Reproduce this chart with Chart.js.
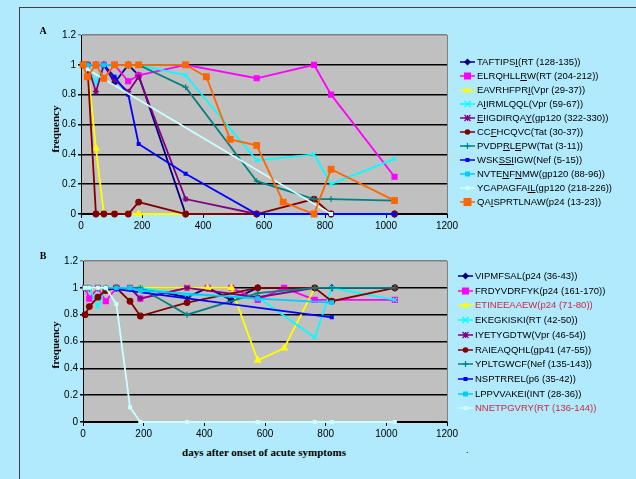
<!DOCTYPE html>
<html>
<head>
<meta charset="utf-8">
<script src="https://cdn.jsdelivr.net/npm/chart.js@4.4.1/dist/chart.umd.min.js"></script>
<style>
body { margin: 0; width: 636px; height: 479px; overflow: hidden; position: relative; background: #b0eafc; font-family: "Liberation Sans", Arial, sans-serif; }
#frame { position: absolute; left: 19px; top: 7px; width: 640px; height: 490px; border: 1px solid #404040; }
canvas { position: absolute; left: 0; }
.t { position: absolute; font-family: "Liberation Serif", "Times New Roman", serif; font-weight: bold; color: #000; white-space: nowrap; transform: translate(-50%, -50%); }
.rot { transform: translate(-50%, -50%) rotate(-90deg); }
.item { position: absolute; height: 14px; white-space: nowrap; font-size: 9.5px; color: #000; }
.item svg { position: absolute; left: 0; top: 0; }
.item span { position: absolute; left: 17px; top: 0; line-height: 14px; }
</style>
</head>
<body>
<div id="frame"></div>
<canvas id="chartA" width="462" height="240" style="top:0px"></canvas>
<canvas id="chartB" width="462" height="205" style="top:240px"></canvas>
<div class="t" style="left:43px;top:30px;font-size:10px">A</div>
<div class="t" style="left:43px;top:255px;font-size:10px">B</div>
<div class="t rot" style="left:55px;top:129px;font-size:11px">frequency</div>
<div class="t rot" style="left:55px;top:345px;font-size:11px">frequency</div>
<div class="t" style="left:264px;top:452px;font-size:11px">days after onset of acute symptoms</div>
<div class="item" style="left:466px;top:444px">.</div>
<div id="legendA"></div>
<div id="legendB"></div>
<script>
const days = [7, 21, 49, 75, 110, 155, 189, 343, 411, 489, 576, 663, 764, 820, 1028];

// panel A
const taftipsi   = [1, 1, 1, 1, 0.88, 1, 0.93, 0, null, null, 0, null, null, 0, 0];
const elrqhllrw  = [1, 1, 1, 1, 1, 0.89, 0.93, 1, null, null, 0.91, null, 1, 0.8, 0.25];
const eavrhfpri  = [1, 1, 0.44, 0, 0, 0, 0, 0, null, null, null, null, null, null, null];
const aiirmlqql  = [1, 1, 0.88, 1, 1, 1, 1, 0.93, null, null, 0.36, null, 0.4, 0.2, 0.37];
const eiigdirqay = [1, 1, 0.82, 1, 0.9, 0.82, 0.92, 0.1, null, null, 0, null, null, 0, 0];
const ccfhcqvc   = [1, 1, 0, 0, 0, 0, 0.08, 0, null, null, 0, null, 0.1, 0, 0];
const pvdprlepw  = [1, 1, 1, 1, 1, 1, 1, 0.85, null, null, 0.22, null, 0.1, 0.1, 0.09];
const wskssiigw  = [1, 1, 1, 1, 0.92, 0.8, 0.47, 0.27, null, null, 0, null, null, 0, 0];
const nvtenfnmw  = [1, 1, 1, 1, 1, 1, 1, 1, null, null, null, null, null, null, null];
const ycapagfail = [1, 0.97, null, null, null, null, null, null, null, null, null, null, null, 0, null];
const qaisprtlnaw = [1, 0.92, 1, 0.91, 1, 1, 1, 1, 0.92, 0.5, 0.46, 0.08, 0, 0.3, 0.09];

// panel B
const vipmfsal   = [1, 1, 1, 1, 1, 1, 1, 0.93, 1, 0.91, 1, null, 1, 1, 1];
const frdyvdrfyk = [1, 0.92, 1, 0.9, 1, 1, 0.92, 1, 1, 1, 0.91, 1, 0.91, null, 0.91];
const etineeaaew = [1, 1, 1, 1, 1, 1, 1, 1, 1, 1, 0.46, 0.55, 1, null, null];
const ekegkiski  = [1, 1, 0.86, 1, 1, 1, 1, 0.95, null, null, 0.93, null, 0.63, 1, 0.91];
const iyetygdtw  = [1, 1, 1, 1, 1, 1, 0.92, 1, null, null, 0.93, null, 1, null, null];
const raieaqqhl  = [0.8, 0.86, 0.93, 0.98, 1, 0.9, 0.79, 0.89, null, null, 1, null, 1, 0.9, 1];
const ypltgwcf   = [1, 1, 1, 1, 1, 1, 1, 0.8, null, null, 0.96, null, 1, 1, 1];
const nsptrrel   = [1, 1, 1, 1, 0.99, null, null, null, null, null, null, null, null, 0.78, null];
const lppvvakei  = [1, 1, 1, 1, 1, 1, 0.98, null, null, null, 0.92, null, null, 0.89, null];
const nnetpgvry  = [1, 1, 1, 1, 0.88, 0.11, 0, 0, null, null, 0, null, 0, 0, 0];

const labelsA = ['TAFTIPS<u>I</u>(RT (128-135))', 'ELRQHLL<u>R</u>W(RT (204-212))', 'EAVRHFPR<u>I</u>(Vpr (29-37))',
  'A<u>I</u>IRMLQQL(Vpr (59-67))', '<u>E</u>IIGDIRQA<u>Y</u>(gp120 (322-330))', 'CC<u>F</u>HCQVC(Tat (30-37))',
  'PVDP<u>R</u>L<u>E</u>PW(Tat (3-11))', 'WSK<u>SS</u><u>I</u>IGW(Nef (5-15))', 'NVTE<u>N</u>F<u>N</u>MW(gp120 (88-96))',
  'YCAPAGFA<u>IL</u>(gp120 (218-226))', 'QA<u>I</u>SPRTLNAW(p24 (13-23))'];
const labelsB = ['VIPMFSAL(p24 (36-43))', 'FRDYVDRFYK(p24 (161-170))', 'ETINEEAAEW(p24 (71-80))',
  'EKEGKISKI(RT (42-50))', 'IYETYGDTW(Vpr (46-54))', 'RAIEAQQHL(gp41 (47-55))', 'YPLTGWCF(Nef (135-143))',
  'NSPTRREL(p6 (35-42))', 'LPPVVAKEI(INT (28-36))', 'NNETPGVRY(RT (136-144))'];

const seriesA = [taftipsi, elrqhllrw, eavrhfpri, aiirmlqql, eiigdirqay, ccfhcqvc, pvdprlepw, wskssiigw, nvtenfnmw, ycapagfail, qaisprtlnaw];
const seriesB = [vipmfsal, frdyvdrfyk, etineeaaew, ekegkiski, iyetygdtw, raieaqqhl, ypltgwcf, nsptrrel, lppvvakei, nnetpgvry];

const looks = [
  { color: '#000080', style: 'rectRot', r: 3 },
  { color: '#ff00ff', style: 'rect', r: 3.5 },
  { color: '#ffff00', style: 'triangle', r: 3.5 },
  { color: '#00ffff', style: 'crossRot', r: 3 },
  { color: '#800080', style: 'star', r: 3 },
  { color: '#800000', style: 'circle', r: 2.8 },
  { color: '#008080', style: 'cross', r: 3 },
  { color: '#0000ff', style: 'rect', r: 2 },
  { color: '#00ccff', style: 'rect', r: 2.5 },
  { color: '#ccffff', style: 'rect', r: 2 },
  { color: '#ff6600', style: 'rect', r: 4 }
];
const redLabels = ['ETINEEAAEW(p24 (71-80))', 'NNETPGVRY(RT (136-144))'];

const plotBg = {
  id: 'plotBg',
  beforeDraw(chart) {
    const a = chart.chartArea, c = chart.ctx;
    c.save();
    c.fillStyle = '#c0c0c0';
    c.fillRect(a.left, a.top, a.right - a.left, a.bottom - a.top);
    c.restore();
  },
  afterDatasetsDraw(chart) {
    const a = chart.chartArea, c = chart.ctx;
    c.save();
    c.strokeStyle = '#808080';
    c.lineWidth = 1;
    c.beginPath();
    c.moveTo(a.right + 0.5, a.top);
    c.lineTo(a.right + 0.5, a.bottom);
    c.stroke();
    c.restore();
  }
};

function makeChart(id, series, yWidth, xHeight, padTop) {
  const n = series.length;
  const datasets = series.map((vals, i) => {
    const lk = looks[i];
    return {
      data: days.map((d, k) => ({ x: d, y: vals[k] })).filter(p => p.y !== null),
      borderColor: lk.color,
      backgroundColor: lk.color,
      pointBackgroundColor: lk.color,
      pointBorderColor: lk.color,
      borderWidth: 1.8,
      pointBorderWidth: 1.2,
      pointStyle: lk.style,
      pointRadius: lk.r,
      pointHoverRadius: lk.r,
      tension: 0,
      clip: false,
      order: n - i
    };
  });
  return new Chart(document.getElementById(id), {
    type: 'line',
    data: { datasets: datasets },
    plugins: [plotBg],
    options: {
      responsive: false,
      animation: false,
      devicePixelRatio: 1,
      layout: { padding: { top: padTop, right: 15, bottom: 0, left: 0 } },
      plugins: { legend: { display: false }, tooltip: { enabled: false } },
      scales: {
        x: {
          type: 'linear', min: 0, max: 1200,
          ticks: { stepSize: 200, color: '#000', padding: 2, font: { family: 'Liberation Sans, Arial', size: 10 },
            callback: v => String(v) },
          grid: { drawOnChartArea: false, drawTicks: true, tickLength: 4, color: '#000' },
          border: { color: '#000', width: 1, z: -1 },
          afterFit: s => { s.height = xHeight; }
        },
        y: {
          min: 0, max: 1.2,
          ticks: { stepSize: 0.2, color: '#000', padding: 2, font: { family: 'Liberation Sans, Arial', size: 10 },
            callback: v => String(+v.toFixed(1)) },
          grid: { color: ctx => (ctx.tick && ctx.tick.value > 1.1) ? '#808080' : '#000', lineWidth: 1.5, tickLength: 3 },
          border: { color: '#000', width: 1, z: -1 },
          afterFit: s => { s.width = yWidth; }
        }
      }
    }
  });
}

makeChart('chartA', seriesA, 81, 26, 35);
makeChart('chartB', seriesB, 83, 23, 21);

function markerSvg(lk) {
  const c = lk.color, cx = 7.5, cy = 7, r = lk.r;
  let m = '';
  if (lk.style === 'rect') m = `<rect x="${cx - r}" y="${cy - r}" width="${2 * r}" height="${2 * r}" fill="${c}"/>`;
  else if (lk.style === 'rectRot') m = `<polygon points="${cx},${cy - r - 0.5} ${cx + r + 0.5},${cy} ${cx},${cy + r + 0.5} ${cx - r - 0.5},${cy}" fill="${c}"/>`;
  else if (lk.style === 'triangle') m = `<polygon points="${cx},${cy - r} ${cx + r},${cy + r * 0.7} ${cx - r},${cy + r * 0.7}" fill="${c}"/>`;
  else if (lk.style === 'circle') m = `<circle cx="${cx}" cy="${cy}" r="${r}" fill="${c}"/>`;
  else {
    const d = [];
    if (lk.style !== 'crossRot') d.push(`M${cx - r} ${cy}H${cx + r}M${cx} ${cy - r}V${cy + r}`);
    if (lk.style !== 'cross') d.push(`M${cx - r} ${cy - r}L${cx + r} ${cy + r}M${cx - r} ${cy + r}L${cx + r} ${cy - r}`);
    m = `<path d="${d.join('')}" stroke="${c}" stroke-width="1.2" fill="none"/>`;
  }
  return `<svg width="16" height="14"><line x1="0" y1="${cy}" x2="15" y2="${cy}" stroke="${c}" stroke-width="1.5"/>${m}</svg>`;
}

function buildLegend(id, labels, left, top, step) {
  const box = document.getElementById(id);
  labels.forEach((lab, i) => {
    const div = document.createElement('div');
    div.className = 'item';
    div.style.left = left + 'px';
    div.style.top = (top + i * step - 7) + 'px';
    const plain = lab.replace(/<[^>]+>/g, '');
    const col = redLabels.includes(plain) ? '#cc2a44' : '#000';
    div.innerHTML = markerSvg(looks[i]) + `<span style="color:${col}">${lab}</span>`;
    box.appendChild(div);
  });
}

buildLegend('legendA', labelsA, 460, 61.5, 14);
buildLegend('legendB', labelsB, 458, 276, 14.7);
</script>
</body>
</html>
